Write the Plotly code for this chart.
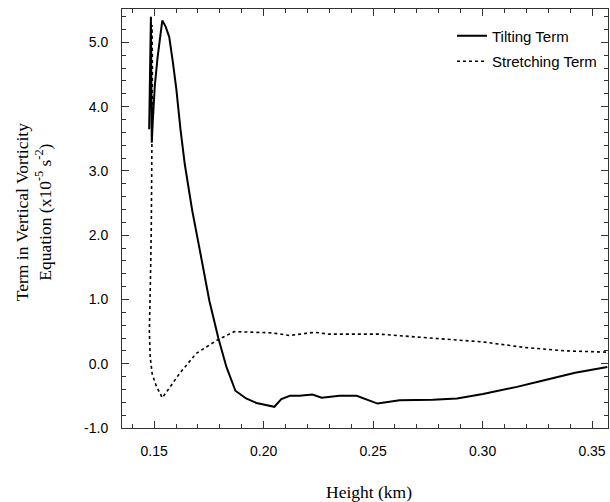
import plotly.graph_objects as go

tilt_x = [0.1477, 0.1481, 0.1485, 0.1487, 0.1489, 0.1494, 0.1503, 0.1515, 0.1525,
          0.1537, 0.1552, 0.1569, 0.1585, 0.1601, 0.1620, 0.1640, 0.1674, 0.1697, 0.1715,
          0.1752, 0.1793, 0.1830, 0.1871, 0.1920, 0.1967, 0.2049, 0.2081, 0.2120, 0.2164,
          0.2223, 0.2265, 0.2347, 0.2425, 0.2520, 0.2621, 0.2773, 0.2883, 0.3002, 0.3157,
          0.3277, 0.3423, 0.3570]
tilt_y = [3.65, 4.6, 5.4, 4.4, 3.44, 3.8, 4.33, 4.75, 5.05,
          5.34, 5.25, 5.08, 4.7, 4.28, 3.65, 3.1, 2.38, 2.0, 1.65,
          0.98, 0.40, -0.05, -0.42, -0.54, -0.61, -0.67, -0.55, -0.50, -0.50,
          -0.48, -0.53, -0.50, -0.50, -0.62, -0.57, -0.56, -0.54, -0.47, -0.36,
          -0.26, -0.14, -0.05]

stretch_x = [0.1486, 0.1490, 0.1492, 0.1491, 0.1489, 0.1487, 0.1484, 0.1479, 0.1478,
             0.1482, 0.1491, 0.1510, 0.1537, 0.1575, 0.1614, 0.1692, 0.1784, 0.1866, 0.1950,
             0.2040, 0.2118, 0.2233, 0.2300, 0.2530, 0.2760, 0.3000, 0.3200, 0.3380, 0.3570]
stretch_y = [4.6, 5.27, 4.6, 3.8, 3.0, 2.2, 1.5, 0.9, 0.5,
             0.1, -0.16, -0.35, -0.53, -0.35, -0.16, 0.16, 0.36, 0.50, 0.49,
             0.48, 0.44, 0.49, 0.46, 0.46, 0.40, 0.34, 0.25, 0.20, 0.18]

y_ticks = [-1.0, 0.0, 1.0, 2.0, 3.0, 4.0, 5.0]
y_labels = ["-1.0", "0.0", "1.0", "2.0", "3.0", "4.0", "5.0"]
x_ticks = [0.15, 0.20, 0.25, 0.30, 0.35]
x_labels = ["0.15", "0.20", "0.25", "0.30", "0.35"]

x_title = "Height (km)"
y_title = "Term in Vertical Vorticity<br>Equation (x10<sup>-5</sup> s<sup>-2</sup>)"

fig = go.Figure()
fig.add_trace(go.Scatter(x=tilt_x, y=tilt_y, mode="lines", name="Tilting Term",
                         legendgroup="a", line=dict(color="black", width=2)))
fig.add_trace(go.Scatter(x=stretch_x, y=stretch_y, mode="lines", name="Stretching Term",
                         legendgroup="b", line=dict(color="black", width=1.6, dash="dot")))

axis_common = dict(showgrid=False, zeroline=False, showline=True, linecolor="#333",
                   linewidth=1, mirror="allticks", ticks="inside", tickcolor="#333",
                   ticklen=7, tickwidth=1, ticklabelstandoff=10,
                   tickfont=dict(family="Liberation Sans, Arial", size=14, color="black"))

fig.update_xaxes(range=[0.1353, 0.3573], tickvals=x_ticks, ticktext=x_labels,
                 minor=dict(dtick=0.01, tick0=0.15, ticks="inside", ticklen=4, tickcolor="#333"),
                 **axis_common)
fig.update_yaxes(range=[-1.0, 5.52], tickvals=y_ticks, ticktext=y_labels,
                 minor=dict(dtick=0.2, tick0=0, ticks="inside", ticklen=4, tickcolor="#333"),
                 **axis_common)

title_font = dict(family="Liberation Serif, Times New Roman", size=17.5, color="black")
fig.add_annotation(text=x_title, xref="paper", yref="paper", x=0.508, y=-0.153,
                   xanchor="center", yanchor="middle", showarrow=False, font=title_font)
fig.add_annotation(text=y_title, xref="paper", yref="paper", x=(33 - 122) / 486, y=0.515,
                   xanchor="center", yanchor="middle", textangle=-90, showarrow=False,
                   font=title_font)

fig.update_layout(
    width=610, height=502,
    margin=dict(l=122, r=2, t=9, b=74),
    paper_bgcolor="white", plot_bgcolor="white",
    showlegend=True,
    legend=dict(x=0.679, y=0.975, xanchor="left", yanchor="top",
                bgcolor="rgba(0,0,0,0)", borderwidth=0,
                font=dict(family="Liberation Sans, Arial", size=15, color="black"),
                tracegroupgap=3),
)

fig.write_html("out.html")
